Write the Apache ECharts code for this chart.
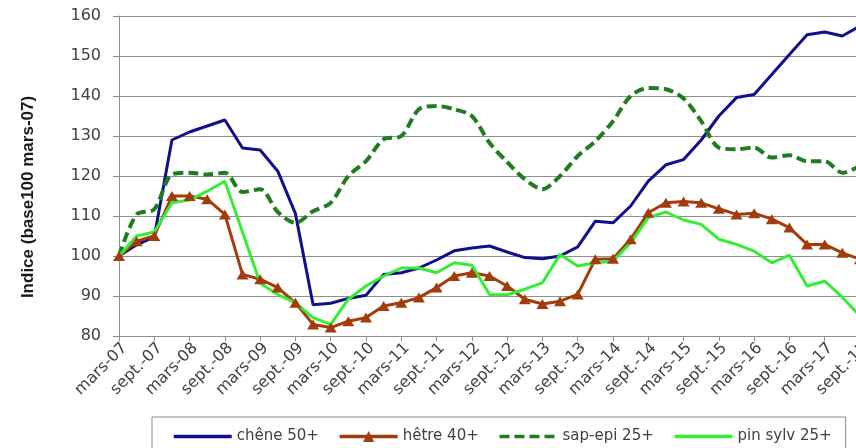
<!DOCTYPE html>
<html>
<head>
<meta charset="utf-8">
<script src="https://cdn.jsdelivr.net/npm/echarts@6/dist/echarts.min.js"></script>
<style>
  html, body { margin: 0; padding: 0; background: #ffffff; }
  #chart { width: 856px; height: 448px; }
</style>
</head>
<body>
<div id="chart"></div>
<script>
const categories = [
  'mars-07','juin-07','sept.-07','déc.-07',
  'mars-08','juin-08','sept.-08','déc.-08',
  'mars-09','juin-09','sept.-09','déc.-09',
  'mars-10','juin-10','sept.-10','déc.-10',
  'mars-11','juin-11','sept.-11','déc.-11',
  'mars-12','juin-12','sept.-12','déc.-12',
  'mars-13','juin-13','sept.-13','déc.-13',
  'mars-14','juin-14','sept.-14','déc.-14',
  'mars-15','juin-15','sept.-15','déc.-15',
  'mars-16','juin-16','sept.-16','déc.-16',
  'mars-17','juin-17','sept.-17'
];

const seriesNames = ['chêne 50+', 'hêtre 40+', 'sap-epi 25+', 'pin sylv 25+'];

const chene = [
  100, 102.8, 104.8, 129, 131, 132.5, 134, 127, 126.5, 121.2, 110.6,
  87.8, 88.2, 89.4, 90.2, 95.4, 95.8, 97, 99, 101.3, 102, 102.5,
  101, 99.6, 99.3, 100, 102.3, 108.7, 108.3, 112.5, 118.7, 122.8,
  124.1, 129, 135, 139.6, 140.4, 145.4, 150.4, 155.3, 156, 155, 157.5
];

const hetre = [
  100, 103.7, 105, 115, 115, 114.2, 110.4, 95.4, 94.2, 92.1, 88.3,
  82.9, 82.1, 83.7, 84.6, 87.5, 88.3, 89.6, 92.1, 95, 95.8, 95,
  92.5, 89.2, 88, 88.7, 90.4, 99.2, 99.3, 104.2, 110.8, 113.3,
  113.6, 113.3, 111.8, 110.4, 110.7, 109.2, 107.1, 102.9, 102.9, 100.8, 99.2
];

const sapEpi = [
  100, 110.4, 111.7, 120.4, 120.8, 120.4, 120.8, 116, 116.7, 111, 108.3,
  111.2, 113.3, 120, 123.7, 129.2, 130, 136.7, 137.5, 136.7, 135, 128.3,
  123.5, 119.2, 116.7, 120, 125, 128.7, 133.7, 140, 142, 141.7,
  139.4, 133.7, 127.1, 126.7, 127.1, 124.6, 125.2, 123.7, 123.7, 120.8, 122.5
];

const pinSylv = [
  100, 105, 106, 113.3, 114, 116.2, 118.7, 106, 93.2, 90.4, 88.3,
  84.6, 82.9, 89.2, 92.5, 95, 97, 97, 95.8, 98.3, 97.7, 90.4,
  90.3, 91.7, 93.3, 100.4, 97.5, 98.3, 98.7, 103.3, 109.6, 111,
  109, 107.9, 104.2, 102.9, 101.2, 98.3, 100.2, 92.5, 93.7, 89.7, 85
];

const yAxisTitle = 'Indice (base100 mars-07)';

const chart = echarts.init(document.getElementById('chart'), null, { renderer: 'canvas' });

const textColor = '#404040';
const gridColor = '#8e8e8e';
const tickFont = 'DejaVu Sans';
const noSymbol = { opacity: 0, color: 'transparent', borderWidth: 0 };

chart.setOption({
  animation: false,
  backgroundColor: '#ffffff',
  grid: { left: 119, top: 16, bottom: 112, right: -4, containLabel: false, outerBoundsMode: 'none' },
  graphic: [{
    type: 'text',
    x: 28,
    y: 197,
    rotation: Math.PI / 2,
    style: {
      text: yAxisTitle,
      fill: '#1a1a1a',
      font: 'bold 17px "Liberation Sans", Arial, sans-serif',
      textAlign: 'center',
      textVerticalAlign: 'middle'
    }
  }],
  legend: {
    data: [
      { name: seriesNames[0], itemStyle: noSymbol },
      { name: seriesNames[1] },
      { name: seriesNames[2], itemStyle: noSymbol },
      { name: seriesNames[3], itemStyle: noSymbol }
    ],
    left: 152,
    top: 417,
    padding: [12, 14, 12, 20],
    itemWidth: 58,
    itemHeight: 14,
    itemGap: 19,
    borderColor: '#8a8a8a',
    borderWidth: 1,
    lineStyle: { width: 3.5 },
    textStyle: { fontFamily: tickFont, fontSize: 15, color: textColor }
  },
  xAxis: {
    type: 'category',
    data: categories,
    boundaryGap: false,
    axisLine: { lineStyle: { color: gridColor, width: 1 } },
    axisTick: { show: true, interval: 1, length: 5, lineStyle: { color: gridColor } },
    axisLabel: {
      interval: 1,
      rotate: 45,
      margin: 4,
      verticalAlign: 'top',
      fontFamily: tickFont,
      fontSize: 16,
      color: textColor
    },
    splitLine: { show: false }
  },
  yAxis: {
    type: 'value',
    min: 80,
    max: 160,
    interval: 10,
    axisLine: { show: true, lineStyle: { color: gridColor, width: 1 } },
    axisTick: { show: true, length: 6, lineStyle: { color: gridColor } },
    axisLabel: {
      margin: 18,
      fontFamily: tickFont,
      fontSize: 16,
      color: textColor
    },
    splitLine: { show: true, lineStyle: { color: gridColor, width: 1.2 } }
  },
  series: [
    {
      name: seriesNames[0],
      type: 'line',
      data: chene,
      symbol: 'none',
      lineStyle: { color: '#10108a', width: 3 },
      itemStyle: { color: '#10108a' }
    },
    {
      name: seriesNames[1],
      type: 'line',
      data: hetre,
      symbol: 'triangle',
      symbolSize: [12, 10],
      lineStyle: { color: '#a33c0c', width: 3 },
      itemStyle: { color: '#a33c0c' }
    },
    {
      name: seriesNames[2],
      type: 'line',
      data: sapEpi,
      symbol: 'none',
      smooth: 0.3,
      lineStyle: { color: '#1f7d1f', width: 4, type: [10, 5] },
      itemStyle: { color: '#1f7d1f' }
    },
    {
      name: seriesNames[3],
      type: 'line',
      data: pinSylv,
      symbol: 'none',
      lineStyle: { color: '#33ee33', width: 3 },
      itemStyle: { color: '#33ee33' }
    }
  ]
});
</script>
</body>
</html>
